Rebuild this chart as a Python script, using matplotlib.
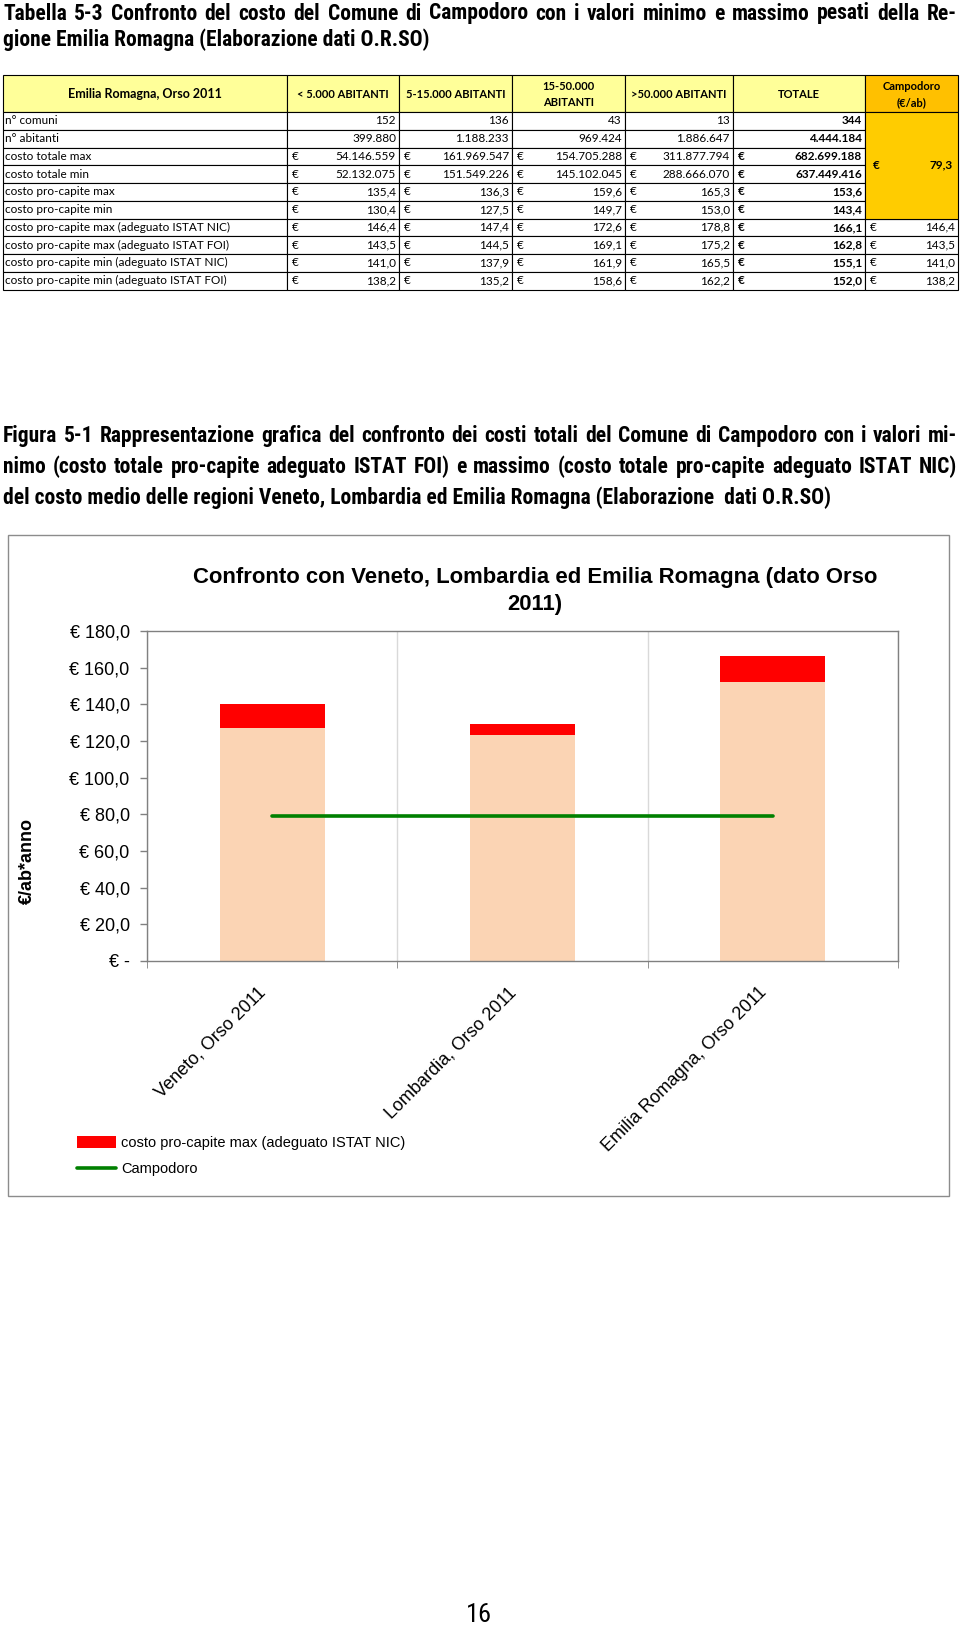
import matplotlib
matplotlib.use('Agg')
import matplotlib.pyplot as plt
from matplotlib import font_manager
from matplotlib.font_manager import FontProperties
from matplotlib.patches import Rectangle
from matplotlib.transforms import ScaledTranslation

# font "narrow" per titoli (Arial Narrow nel documento originale): cerca una variante condensata
NARROW, NARROW_STRETCH = 'Roboto', 'normal'
for fam, st in [('Liberation Sans Narrow', 'normal'), ('Roboto Condensed', 'normal'),
                ('DejaVu Sans', 'condensed'), ('Roboto', 'condensed'), ('Open Sans', 'condensed'),
                ('Noto Sans', 'condensed')]:
    try:
        p = font_manager.findfont(FontProperties(family=fam, stretch=st, weight='bold'),
                                  fallback_to_default=False)
    except ValueError:
        continue
    if 'arrow' in p or 'ondensed' in p:
        NARROW, NARROW_STRETCH = fam, st
        break
TAB_FONT = 'Lato'
ARIAL = 'Liberation Sans'

# --- testi della pagina ---
titolo_tab = ["Tabella 5-3 Confronto del costo del Comune di Campodoro con i valori minimo e massimo pesati della Re-",
              "gione Emilia Romagna (Elaborazione dati O.R.SO)"]
didascalia = ["Figura 5-1 Rappresentazione grafica del confronto dei costi totali del Comune di Campodoro con i valori mi-",
              "nimo (costo totale pro-capite adeguato ISTAT FOI) e massimo (costo totale pro-capite adeguato ISTAT NIC)",
              "del costo medio delle regioni Veneto, Lombardia ed Emilia Romagna (Elaborazione  dati O.R.SO)"]
numero_pagina = "16"

# --- dati tabella ---
intestazione_voci = "Emilia Romagna, Orso 2011"
intestazioni = ["< 5.000 ABITANTI", "5-15.000 ABITANTI", "15-50.000\nABITANTI", ">50.000 ABITANTI", "TOTALE"]
intestazione_campodoro = "Campodoro\n(€/ab)"
voci = ["n° comuni", "n° abitanti", "costo totale max", "costo totale min",
        "costo pro-capite max", "costo pro-capite min",
        "costo pro-capite max (adeguato ISTAT NIC)", "costo pro-capite max (adeguato ISTAT FOI)",
        "costo pro-capite min (adeguato ISTAT NIC)", "costo pro-capite min (adeguato ISTAT FOI)"]
n_comuni = [152, 136, 43, 13, 344]
n_abitanti = [399880, 1188233, 969424, 1886647, 4444184]
costo_tot_max = [54146559, 161969547, 154705288, 311877794, 682699188]
costo_tot_min = [52132075, 151549226, 145102045, 288666070, 637449416]
pc_max = [135.4, 136.3, 159.6, 165.3, 153.6]
pc_min = [130.4, 127.5, 149.7, 153.0, 143.4]
pc_max_nic = [146.4, 147.4, 172.6, 178.8, 166.1]
pc_max_foi = [143.5, 144.5, 169.1, 175.2, 162.8]
pc_min_nic = [141.0, 137.9, 161.9, 165.5, 155.1]
pc_min_foi = [138.2, 135.2, 158.6, 162.2, 152.0]
campodoro_costo = 79.3
campodoro_adeguato = [146.4, 143.5, 141.0, 138.2]

# --- dati grafico ---
regioni = ['Veneto, Orso 2011', 'Lombardia, Orso 2011', 'Emilia Romagna, Orso 2011']
min_foi = [127.0, 123.0, 152.0]
max_nic = [140.0, 129.1, 166.1]
campodoro = [79.3, 79.3, 79.3]
y_ticks = [0, 20, 40, 60, 80, 100, 120, 140, 160, 180]


def fmt_int(v):
    return f"{v:,}".replace(',', '.')


def fmt_dec(v):
    return f"{v:.1f}".replace('.', ',')


fig = plt.figure(figsize=(9.6, 16.28), dpi=100)
pg = fig.add_axes([0, 0, 1, 1])
pg.set_xlim(0, 960)
pg.set_ylim(1628, 0)
pg.axis('off')
r = fig.canvas.get_renderer()


def riga_giustificata(testo, x0, x1, y, **kw):
    parole = testo.split()
    tt = [pg.text(0, y, p, va='center', ha='left', **kw) for p in parole]
    larg = [t.get_window_extent(r).width for t in tt]
    spazio = (x1 - x0 - sum(larg)) / (len(parole) - 1)
    x = x0
    for t, w in zip(tt, larg):
        t.set_x(x)
        x += w + spazio


# dimensione del font dei titoli: la riga giustificata deve avere spazi quasi normali
stile_tit = dict(family=NARROW, fontstretch=NARROW_STRETCH, fontweight='bold')
prova = [pg.text(0, 0, s, fontsize=13, **stile_tit) for s in (titolo_tab[0], didascalia[0], didascalia[1])]
larg_max = max(t.get_window_extent(r).width for t in prova)
for t in prova:
    t.remove()
stile_tit['fontsize'] = min(15.5, 13 * 948 / larg_max)

riga_giustificata(titolo_tab[0], 3, 957, 13.5, **stile_tit)
pg.text(3, 40, titolo_tab[1], va='center', **stile_tit)
riga_giustificata(didascalia[0], 3, 957, 436, **stile_tit)
riga_giustificata(didascalia[1], 3, 957, 467, **stile_tit)
pg.text(3, 498, didascalia[2], va='center', **stile_tit)
pg.text(479, 1615, numero_pagina, ha='center', va='center', family=NARROW,
        fontstretch=NARROW_STRETCH, fontsize=19)

# --- tabella ---
col_x = [3, 287, 399, 512, 625, 733, 865, 958]
y_head0, y_head1 = 75, 112
h_riga = 17.75
fs = 8.5
righe = [n_comuni, n_abitanti, costo_tot_max, costo_tot_min, pc_max, pc_min,
         pc_max_nic, pc_max_foi, pc_min_nic, pc_min_foi]
lw = 0.8

# intestazione
for j in range(7):
    colore = '#FFC000' if j == 6 else '#FFFF99'
    pg.add_patch(Rectangle((col_x[j], y_head0), col_x[j + 1] - col_x[j], y_head1 - y_head0,
                           facecolor=colore, edgecolor='black', lw=lw))
testi_head = [intestazione_voci] + intestazioni + [intestazione_campodoro]
for j, t in enumerate(testi_head):
    pg.text((col_x[j] + col_x[j + 1]) / 2, (y_head0 + y_head1) / 2 + 1, t, ha='center', va='center',
            family=TAB_FONT, fontsize=9 if j == 0 else 8, fontweight='bold', linespacing=1.5)

for i, (voce, valori) in enumerate(zip(voci, righe)):
    y0 = y_head1 + i * h_riga
    yc = y0 + h_riga / 2
    for j in range(6):
        pg.add_patch(Rectangle((col_x[j], y0), col_x[j + 1] - col_x[j], h_riga,
                               facecolor='white', edgecolor='black', lw=lw))
    pg.text(col_x[0] + 2, yc, voce, va='center', family=TAB_FONT, fontsize=fs)
    for k, v in enumerate(valori):
        j = k + 1
        peso = 'bold' if k == 4 else 'normal'
        s = fmt_int(v) if i < 4 else fmt_dec(v)
        pg.text(col_x[j + 1] - 3, yc, s, ha='right', va='center', family=TAB_FONT, fontsize=fs, fontweight=peso)
        if i >= 2:
            pg.text(col_x[j] + 5, yc, '€', ha='left', va='center', family=TAB_FONT, fontsize=fs, fontweight=peso)
    if i >= 6:
        pg.add_patch(Rectangle((col_x[6], y0), col_x[7] - col_x[6], h_riga,
                               facecolor='white', edgecolor='black', lw=lw))
        pg.text(col_x[7] - 3, yc, fmt_dec(campodoro_adeguato[i - 6]), ha='right', va='center',
                family=TAB_FONT, fontsize=fs)
        pg.text(col_x[6] + 5, yc, '€', ha='left', va='center', family=TAB_FONT, fontsize=fs)

# cella unita Campodoro
pg.add_patch(Rectangle((col_x[6], y_head1), col_x[7] - col_x[6], 6 * h_riga,
                       facecolor='#FFCC00', edgecolor='black', lw=lw))
yc = y_head1 + 3 * h_riga
pg.text(col_x[7] - 5, yc, fmt_dec(campodoro_costo), ha='right', va='center', family=TAB_FONT,
        fontsize=fs, fontweight='bold')
pg.text(col_x[6] + 8, yc, '€', ha='left', va='center', family=TAB_FONT, fontsize=fs, fontweight='bold')

# --- riquadro del grafico ---
pg.add_patch(Rectangle((8, 535), 941, 661, facecolor='white', edgecolor='#8c8c8c', lw=1))

fig.text(535 / 960, 1 - 591 / 1628,
         "Confronto con Veneto, Lombardia ed Emilia Romagna (dato Orso\n2011)",
         ha='center', va='center', multialignment='center', family=ARIAL, fontsize=15.9,
         fontweight='bold', linespacing=1.35)
fig.text(27 / 960, 1 - 861 / 1628, "€/ab*anno", rotation=90, ha='center', va='center',
         family=ARIAL, fontsize=13, fontweight='bold')

ax = fig.add_axes([147 / 960, 1 - 961 / 1628, 751 / 960, 330 / 1628])
x = list(range(len(regioni)))
ax.bar(x, min_foi, width=0.42, color='#FBD4B4', zorder=2)
delta = [a - b for a, b in zip(max_nic, min_foi)]
rosso = ax.bar(x, delta, bottom=min_foi, width=0.42, color='#FF0000', zorder=2)
linea, = ax.plot(x, campodoro, color='#008000', lw=2.6, solid_capstyle='round', zorder=3)

ax.set_xlim(-0.5, 2.5)
ax.set_ylim(0, 180)
ax.set_yticks(y_ticks)
ax.set_yticklabels(["€ -" if v == 0 else "€ " + fmt_dec(v) for v in y_ticks],
                   family=ARIAL, fontsize=13)
ax.tick_params(axis='y', direction='out', length=5, width=1, color='#808080', pad=7.5)
ax.set_xticks(x)
ax.set_xticklabels(regioni, family=ARIAL, fontsize=13)
ax.tick_params(axis='x', length=0, pad=21)
sposta = ScaledTranslation(-9 / 100, 0, fig.dpi_scale_trans)
for lab in ax.get_xticklabels():
    lab.set_rotation(45)
    lab.set_ha('right')
    lab.set_va('center')
    lab.set_rotation_mode('anchor')
    lab.set_transform(lab.get_transform() + sposta)
ax.set_xticks([-0.5, 0.5, 1.5, 2.5], minor=True)
ax.tick_params(axis='x', which='minor', direction='out', length=5, color='#808080')
ax.grid(axis='x', which='minor', color='#D9D9D9', lw=1, zorder=0)
for s in ax.spines.values():
    s.set_color('#808080')
    s.set_linewidth(1)

fig.legend(handles=[rosso, linea],
           labels=['costo pro-capite max (adeguato ISTAT NIC)', 'Campodoro'],
           loc='upper left', bbox_to_anchor=(77 / 960, 1 - 1136 / 1628),
           frameon=False, prop=dict(family=ARIAL, size=10.5), handlelength=2.7,
           handleheight=0.8, labelspacing=0.85, handletextpad=0.35, borderpad=0, borderaxespad=0)

fig.savefig('out.png', dpi=100)
